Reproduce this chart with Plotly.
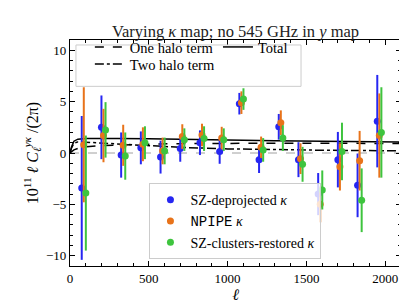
import plotly.graph_objects as go

# ---------------- data ----------------
ell_bins = [87.5, 212.5, 337.5, 462.5, 587.5, 712.5, 837.5, 962.5,
            1087.5, 1212.5, 1337.5, 1462.5, 1587.5, 1712.5, 1837.5, 1962.5]

sz_dep = [-3.4, 2.5, -0.2, 0.5, -0.4, 0.45, 1.0, 0.15,
          4.8, -0.65, 2.55, -0.65, -4.0, -0.65, -3.15, 3.1]
sz_dep_err = [7.0, 3.1, 2.2, 1.6, 1.6, 1.3, 1.2, 1.2,
              1.05, 1.3, 1.25, 1.7, 2.05, 2.7, 3.1, 4.5]

npipe = [0.8, 1.7, 0.75, 0.85, 0.2, 1.6, 1.75, 1.45,
         4.9, 0.55, 2.95, -0.55, -5.0, -1.35, -0.75, 1.7]
npipe_err = [5.6, 2.6, 2.0, 1.65, 1.3, 1.2, 1.1, 1.1,
             1.1, 1.05, 1.2, 1.5, 1.75, 2.3, 2.9, 4.1]

sz_rest = [-3.9, 2.25, -0.3, 1.0, 0.2, 1.3, 1.4, 1.3,
           5.25, 0.3, 1.45, -1.1, -3.6, 0.15, -4.6, 2.0]
sz_rest_err = [5.6, 2.7, 2.3, 1.6, 1.3, 1.1, 1.2, 1.1,
               1.05, 1.15, 1.25, 1.7, 1.9, 2.8, 3.1, 4.4]

ell_model = [0, 10, 25, 50, 100, 200, 300, 500, 700, 1000, 1300, 1600, 2000, 2100]
total = [0.0, 0.6, 1.15, 1.35, 1.42, 1.43, 1.42, 1.38, 1.32, 1.25, 1.2, 1.15, 1.08, 1.06]
one_halo = [0.0, 0.12, 0.3, 0.45, 0.6, 0.72, 0.78, 0.86, 0.91, 0.95, 0.96, 0.95, 0.93, 0.92]
two_halo = [0.0, 0.5, 0.95, 1.08, 1.05, 0.97, 0.88, 0.7, 0.55, 0.4, 0.32, 0.27, 0.22, 0.21]

x_ticks = [0, 500, 1000, 1500, 2000]
y_ticks = [-10, -5, 0, 5, 10]

# ---------------- style ----------------
SERIF = "Liberation Serif, DejaVu Serif, serif"
BLUE, ORANGE, GREEN = "#2626f2", "#e8731a", "#3ec43e"
OFFSET = 13

fig = go.Figure()

fig.add_hline(y=0, line=dict(color="#888888", width=0.8, dash="dash"), layer="below")

# model curves, each in its own legend slot inside one shared frame
fig.add_trace(go.Scatter(x=ell_model, y=one_halo, mode="lines", name="One halo term",
                         line=dict(color="black", width=1.5, dash="dash"), legend="legend"))
fig.add_trace(go.Scatter(x=ell_model, y=two_halo, mode="lines", name="Two halo term",
                         line=dict(color="black", width=1.5, dash="dashdot"), legend="legend4"))
fig.add_trace(go.Scatter(x=ell_model, y=total, mode="lines", name="Total",
                         line=dict(color="black", width=1.5), legend="legend3"))

series = [
    ("SZ-deprojected <i>κ</i>", sz_dep, sz_dep_err, BLUE, -OFFSET),
    ("<span style='font-family:Liberation Mono'>NPIPE</span> <i>κ</i>", npipe, npipe_err, ORANGE, 0),
    ("SZ-clusters-restored <i>κ</i>", sz_rest, sz_rest_err, GREEN, OFFSET),
]
for name, vals, errs, col, off in series:
    fig.add_trace(go.Scatter(
        x=[e + off for e in ell_bins], y=vals, mode="markers", name=name,
        marker=dict(color=col, size=7),
        error_y=dict(type="data", array=errs, color=col, thickness=2, width=0),
        legend="legend2"))

# frame of the upper-left legend (semi-transparent like matplotlib)
fig.add_shape(type="rect", xref="paper", yref="paper",
              x0=0.018, x1=0.698, y0=0.795, y1=0.978,
              fillcolor="rgba(255,255,255,0.8)", line=dict(color="#cccccc", width=1),
              layer="above")

axis_common = dict(
    showgrid=False, zeroline=False, showline=True, linecolor="black", linewidth=1.2,
    mirror="allticks", ticks="inside", ticklen=5, tickwidth=1, tickcolor="black",
    tickfont=dict(family=SERIF, size=13, color="black"),
)

clear_legend = dict(bgcolor="rgba(0,0,0,0)", borderwidth=0, visible=True,
                    font=dict(family=SERIF, size=14.5), xanchor="left", yanchor="middle")

fig.update_layout(
    width=407, height=305,
    margin=dict(l=62, r=14, t=32, b=47),
    paper_bgcolor="white", plot_bgcolor="white",
    showlegend=True,
    font=dict(family=SERIF, size=13, color="black"),
    title=dict(text="Varying <i>κ</i> map; no 545 GHz in <i>y</i> map",
               x=0.5, xref="paper", xanchor="center",
               y=1, yref="paper", yanchor="bottom", pad=dict(b=3),
               font=dict(family=SERIF, size=16.5, color="#222222")),
    xaxis=dict(range=[0, 2100], tickvals=x_ticks,
               minor=dict(dtick=100, ticks="inside", ticklen=2.5, tickcolor="black"),
               title=dict(text="<i>ℓ</i>", font=dict(family=SERIF, size=16), standoff=0),
               **axis_common),
    yaxis=dict(range=[-11, 11], tickvals=y_ticks,
               minor=dict(dtick=1, ticks="inside", ticklen=2.5, tickcolor="black"),
               title=dict(text="10<sup>11</sup> <i>ℓ C</i><sub><i>ℓ</i></sub><sup><i>yκ</i></sup> /(2π)",
                          font=dict(family=SERIF, size=16), standoff=3),
               **axis_common),
    legend=dict(x=0.060, y=0.969, **clear_legend),
    legend4=dict(x=0.060, y=0.893, **clear_legend),
    legend3=dict(x=0.447, y=0.969, **clear_legend),
    legend2=dict(x=0.24, y=0.03, xanchor="left", yanchor="bottom",
                 bgcolor="rgba(255,255,255,0.8)", bordercolor="#cccccc", borderwidth=1,
                 font=dict(family=SERIF, size=14), tracegroupgap=0),
)

fig.write_html("out.html")
